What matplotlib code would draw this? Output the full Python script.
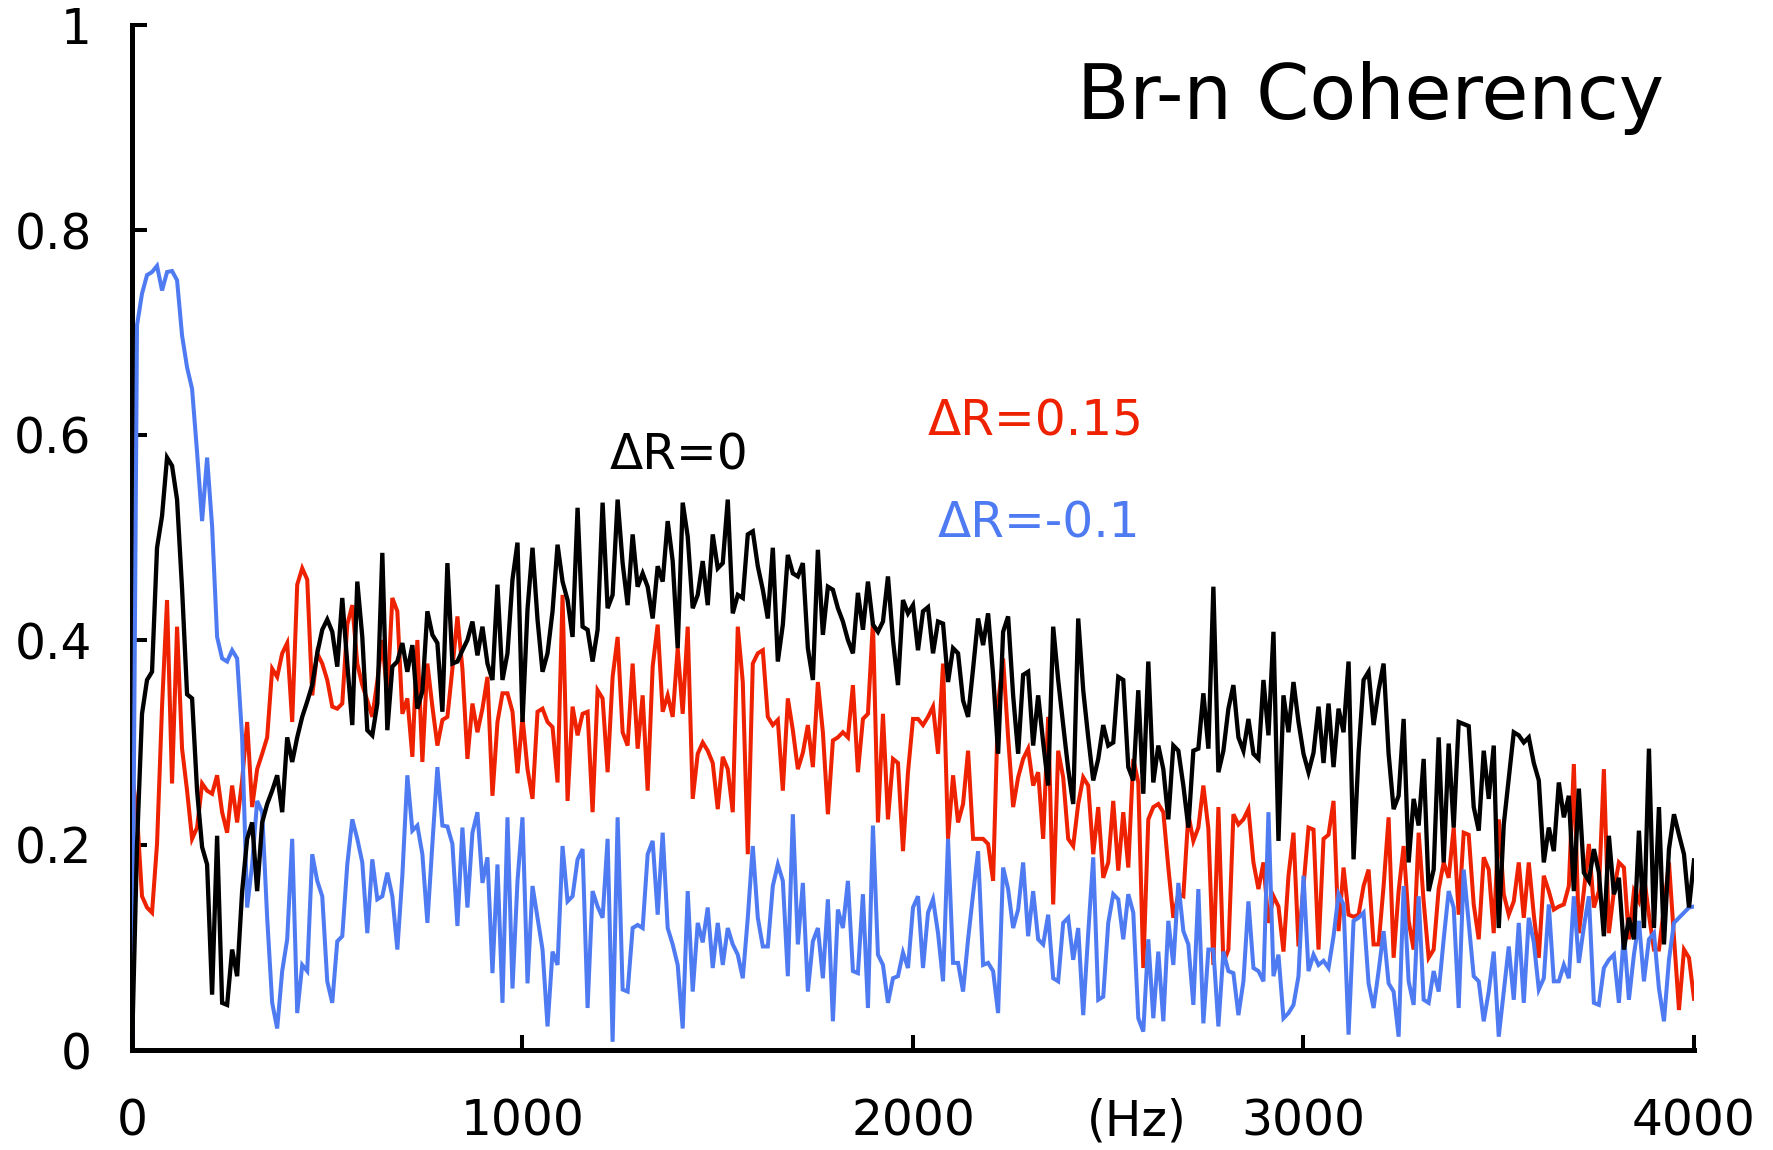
import numpy as np
import matplotlib.pyplot as plt

plt.rcParams["font.family"] = "DejaVu Sans"

# coherency, 0..4000 Hz on a uniform grid
black = [
    0, 0.2, 0.328, 0.361, 0.369, 0.49, 0.521, 0.578, 0.57, 0.537, 0.45, 0.347, 0.343, 0.253, 0.198, 0.181,
    0.054, 0.209, 0.046, 0.044, 0.098, 0.072, 0.155, 0.206, 0.222, 0.155, 0.222, 0.24, 0.253, 0.268, 0.232,
    0.305, 0.281, 0.305, 0.325, 0.34, 0.356, 0.387,
    0.41, 0.42, 0.408, 0.374, 0.441, 0.377, 0.317, 0.457, 0.403, 0.312, 0.307, 0.338, 0.485, 0.312, 0.374,
    0.379, 0.397, 0.369, 0.395, 0.333, 0.35, 0.428, 0.405, 0.397, 0.33, 0.475, 0.377, 0.379, 0.39, 0.40,
    0.418, 0.385, 0.413, 0.377, 0.361, 0.454, 0.361, 0.387, 0.459, 0.495,
    0.32, 0.43, 0.49, 0.42, 0.369, 0.387, 0.428, 0.493, 0.457, 0.439, 0.403, 0.529, 0.413, 0.41, 0.379,
    0.41, 0.534, 0.431, 0.444, 0.537, 0.475, 0.434, 0.503, 0.452, 0.465, 0.452, 0.421, 0.472, 0.457, 0.516,
    0.477, 0.392, 0.534, 0.501, 0.431, 0.444, 0.477, 0.434, 0.503, 0.47,
    0.475, 0.537, 0.426, 0.444, 0.441, 0.503, 0.506, 0.472, 0.449, 0.421, 0.49, 0.379, 0.415, 0.483, 0.465,
    0.462, 0.475, 0.392, 0.361, 0.488, 0.405, 0.452, 0.449, 0.431, 0.418, 0.40, 0.387, 0.446, 0.41, 0.457,
    0.415, 0.408, 0.418, 0.462, 0.40, 0.356, 0.439, 0.426, 0.434, 0.39,
    0.428, 0.432, 0.387, 0.418, 0.416, 0.359, 0.392, 0.387, 0.341, 0.325, 0.372, 0.421, 0.395, 0.426, 0.366,
    0.289, 0.408, 0.423, 0.346, 0.289, 0.366, 0.369, 0.297, 0.346, 0.30, 0.258, 0.413, 0.361, 0.317, 0.274,
    0.24, 0.421, 0.351, 0.305, 0.263, 0.284, 0.317, 0.297, 0.30, 0.364,
    0.361, 0.276, 0.263, 0.351, 0.25, 0.379, 0.261, 0.297, 0.274, 0.225, 0.297, 0.292, 0.258, 0.217, 0.292,
    0.294, 0.348, 0.294, 0.452, 0.271, 0.292, 0.333, 0.356, 0.305, 0.292, 0.323, 0.289, 0.284, 0.361, 0.307,
    0.408, 0.204, 0.346, 0.31, 0.359, 0.32, 0.289, 0.271, 0.29, 0.335,
    0.28, 0.338, 0.276, 0.333, 0.31, 0.379, 0.186, 0.29, 0.361, 0.369, 0.317, 0.351, 0.377, 0.289, 0.235,
    0.248, 0.323, 0.183, 0.245, 0.219, 0.284, 0.155, 0.176, 0.305, 0.183, 0.299, 0.217, 0.32, 0.318, 0.316,
    0.237, 0.214, 0.292, 0.245, 0.297, 0.119, 0.22, 0.265, 0.31, 0.307,
    0.30, 0.305, 0.28, 0.263, 0.183, 0.217, 0.194, 0.261, 0.227, 0.248, 0.155, 0.255, 0.173, 0.165, 0.196,
    0.173, 0.111, 0.209, 0.152, 0.168, 0.098, 0.129, 0.108, 0.214, 0.119, 0.294, 0.119, 0.237, 0.103, 0.196,
    0.23, 0.21, 0.191, 0.139, 0.185,
]
red = [
    0.27, 0.23, 0.15, 0.139, 0.134, 0.201, 0.335, 0.439, 0.26, 0.413, 0.294, 0.253, 0.206, 0.217, 0.26,
    0.253, 0.25, 0.268, 0.232, 0.212, 0.258, 0.222, 0.263, 0.32, 0.237, 0.274, 0.289, 0.305, 0.372, 0.364,
    0.387, 0.397, 0.32, 0.454, 0.47, 0.459, 0.346, 0.387,
    0.377, 0.361, 0.335, 0.333, 0.338, 0.415, 0.434, 0.377, 0.356, 0.341, 0.325, 0.36, 0.40, 0.345, 0.441,
    0.428, 0.328, 0.343, 0.286, 0.40, 0.281, 0.377, 0.335, 0.297, 0.322, 0.325, 0.372, 0.423, 0.372, 0.284,
    0.338, 0.31, 0.333, 0.364, 0.248, 0.32, 0.348, 0.348, 0.33, 0.27,
    0.325, 0.274, 0.245, 0.33, 0.333, 0.32, 0.315, 0.261, 0.444, 0.243, 0.335, 0.307, 0.328, 0.33, 0.232,
    0.351, 0.343, 0.271, 0.364, 0.403, 0.31, 0.297, 0.377, 0.294, 0.346, 0.253, 0.374, 0.415, 0.33, 0.346,
    0.325, 0.392, 0.328, 0.413, 0.245, 0.289, 0.3, 0.292, 0.28, 0.235,
    0.286, 0.274, 0.232, 0.413, 0.359, 0.191, 0.377, 0.387, 0.39, 0.325, 0.317, 0.322, 0.253, 0.343, 0.312,
    0.274, 0.29, 0.317, 0.276, 0.359, 0.31, 0.23, 0.302, 0.305, 0.31, 0.305, 0.356, 0.271, 0.323, 0.328,
    0.418, 0.222, 0.328, 0.225, 0.284, 0.28, 0.194, 0.271, 0.323, 0.323,
    0.317, 0.325, 0.335, 0.289, 0.377, 0.206, 0.268, 0.222, 0.24, 0.292, 0.206, 0.206, 0.206, 0.201, 0.165,
    0.338, 0.382, 0.305, 0.237, 0.266, 0.284, 0.294, 0.258, 0.271, 0.206, 0.325, 0.142, 0.292, 0.266, 0.206,
    0.199, 0.24, 0.266, 0.258, 0.191, 0.237, 0.168, 0.183, 0.243, 0.175,
    0.232, 0.178, 0.284, 0.261, 0.08, 0.225, 0.237, 0.24, 0.232, 0.178, 0.129, 0.152, 0.15, 0.23, 0.204,
    0.217, 0.258, 0.216, 0.083, 0.237, 0.085, 0.098, 0.23, 0.22, 0.225, 0.235, 0.183, 0.157, 0.183, 0.124,
    0.15, 0.14, 0.096, 0.17, 0.212, 0.101, 0.16, 0.217, 0.215, 0.098,
    0.206, 0.21, 0.243, 0.116, 0.178, 0.132, 0.13, 0.132, 0.16, 0.176, 0.103, 0.103, 0.16, 0.227, 0.09,
    0.155, 0.199, 0.126, 0.098, 0.212, 0.145, 0.09, 0.098, 0.157, 0.183, 0.168, 0.217, 0.132, 0.212, 0.21,
    0.142, 0.108, 0.188, 0.176, 0.114, 0.225, 0.152, 0.132, 0.145, 0.183,
    0.129, 0.183, 0.132, 0.09, 0.17, 0.155, 0.137, 0.14, 0.142, 0.16, 0.279, 0.114, 0.155, 0.201, 0.139,
    0.155, 0.274, 0.114, 0.155, 0.183, 0.178, 0.108, 0.155, 0.145, 0.17, 0.132, 0.098, 0.098, 0.139, 0.183,
    0.11, 0.039, 0.098, 0.09, 0.05,
]
blue = [
    0, 0.707, 0.738, 0.756, 0.759, 0.765, 0.741, 0.759, 0.76, 0.751, 0.697, 0.666, 0.645, 0.583, 0.516,
    0.578, 0.511, 0.403, 0.382, 0.379, 0.39, 0.382, 0.305, 0.139, 0.181, 0.243, 0.232, 0.129, 0.046, 0.021,
    0.077, 0.108, 0.206, 0.036, 0.083, 0.077, 0.191, 0.165,
    0.15, 0.067, 0.046, 0.106, 0.111, 0.181, 0.225, 0.206, 0.183, 0.114, 0.186, 0.147, 0.15, 0.173, 0.15,
    0.098, 0.17, 0.268, 0.214, 0.219, 0.191, 0.124, 0.201, 0.276, 0.219, 0.218, 0.201, 0.121, 0.217, 0.139,
    0.212, 0.232, 0.163, 0.188, 0.075, 0.181, 0.046, 0.227, 0.06, 0.165,
    0.227, 0.065, 0.16, 0.129, 0.098, 0.023, 0.096, 0.083, 0.199, 0.145, 0.15, 0.186, 0.196, 0.041, 0.155,
    0.14, 0.129, 0.206, 0.008, 0.227, 0.059, 0.057, 0.119, 0.122, 0.119, 0.191, 0.204, 0.132, 0.212, 0.119,
    0.103, 0.083, 0.021, 0.155, 0.057, 0.124, 0.105, 0.139, 0.08, 0.124,
    0.083, 0.119, 0.103, 0.093, 0.07, 0.129, 0.199, 0.129, 0.101, 0.101, 0.16, 0.181, 0.165, 0.072, 0.23,
    0.103, 0.163, 0.057, 0.106, 0.119, 0.07, 0.147, 0.028, 0.137, 0.119, 0.165, 0.077, 0.075, 0.152, 0.041,
    0.219, 0.093, 0.083, 0.046, 0.07, 0.072, 0.095, 0.08, 0.139, 0.15,
    0.08, 0.134, 0.147, 0.114, 0.067, 0.206, 0.085, 0.085, 0.057, 0.108, 0.152, 0.194, 0.083, 0.085, 0.077,
    0.036, 0.178, 0.157, 0.119, 0.137, 0.183, 0.111, 0.155, 0.108, 0.103, 0.132, 0.07, 0.067, 0.124, 0.129,
    0.088, 0.119, 0.034, 0.114, 0.188, 0.049, 0.052, 0.124, 0.152, 0.147,
    0.108, 0.152, 0.134, 0.031, 0.018, 0.108, 0.031, 0.096, 0.028, 0.126, 0.083, 0.163, 0.116, 0.103, 0.044,
    0.157, 0.026, 0.098, 0.098, 0.023, 0.096, 0.077, 0.075, 0.034, 0.067, 0.145, 0.08, 0.077, 0.067, 0.232,
    0.072, 0.093, 0.031, 0.036, 0.044, 0.072, 0.17, 0.077, 0.093, 0.083,
    0.087, 0.08, 0.111, 0.152, 0.142, 0.015, 0.126, 0.129, 0.134, 0.065, 0.041, 0.077, 0.116, 0.065, 0.057,
    0.013, 0.16, 0.067, 0.044, 0.15, 0.049, 0.046, 0.077, 0.057, 0.108, 0.155, 0.139, 0.041, 0.176, 0.124,
    0.072, 0.067, 0.028, 0.057, 0.096, 0.013, 0.057, 0.101, 0.049, 0.124,
    0.046, 0.129, 0.105, 0.059, 0.07, 0.142, 0.067, 0.067, 0.083, 0.07, 0.15, 0.085, 0.12, 0.15, 0.046,
    0.044, 0.08, 0.088, 0.093, 0.046, 0.114, 0.049, 0.093, 0.126, 0.067, 0.108, 0.114, 0.06, 0.028, 0.088,
    0.124, 0.129, 0.134, 0.139, 0.14,
]

xticks = [0, 1000, 2000, 3000, 4000]
yticks = [0, 0.2, 0.4, 0.6, 0.8, 1.0]
ytick_labels = ["0", "0.2", "0.4", "0.6", "0.8", "1"]

RED = "#ee2200"
BLUE = "#4f7bf2"

fig = plt.figure(figsize=(17.74, 11.5), dpi=100)
ax = fig.add_axes([132 / 1774, 100 / 1150, 1562 / 1774, 1025 / 1150])

for vals, col, lw, z in [(red, RED, 2.9, 2), (blue, BLUE, 2.9, 3), (black, "black", 3.1, 4)]:
    f = np.linspace(0, 4000, len(vals))
    ax.plot(f, vals, color=col, lw=lw, zorder=z, solid_joinstyle="miter")

ax.set_xlim(0, 4000)
ax.set_ylim(0, 1)
ax.set_xticks(xticks)
ax.set_xticklabels([str(t) for t in xticks])
ax.set_yticks(yticks)
ax.set_yticklabels(ytick_labels)

for s in ["top", "right"]:
    ax.spines[s].set_visible(False)
for s in ["left", "bottom"]:
    ax.spines[s].set_linewidth(3.6)
ax.tick_params(axis="both", direction="in", length=11, width=2.9, labelsize=35)
ax.tick_params(axis="y", pad=29)
ax.tick_params(axis="x", pad=34)

fig.text(1077 / 1774, 1 - 119 / 1150, "Br-n Coherency", fontsize=55, ha="left", va="baseline")
fig.text(1137 / 1774, 1 - 1121 / 1150, "(Hz)", fontsize=35, ha="center", va="center")
fig.text(610 / 1774, 1 - 469 / 1150, "\u0394R=0", fontsize=35, color="black", ha="left", va="baseline")
fig.text(928 / 1774, 1 - 435 / 1150, "\u0394R=0.15", fontsize=35, color=RED, ha="left", va="baseline")
fig.text(938 / 1774, 1 - 537 / 1150, "\u0394R=-0.1", fontsize=35, color=BLUE, ha="left", va="baseline")

fig.savefig("out.png", dpi=100)
